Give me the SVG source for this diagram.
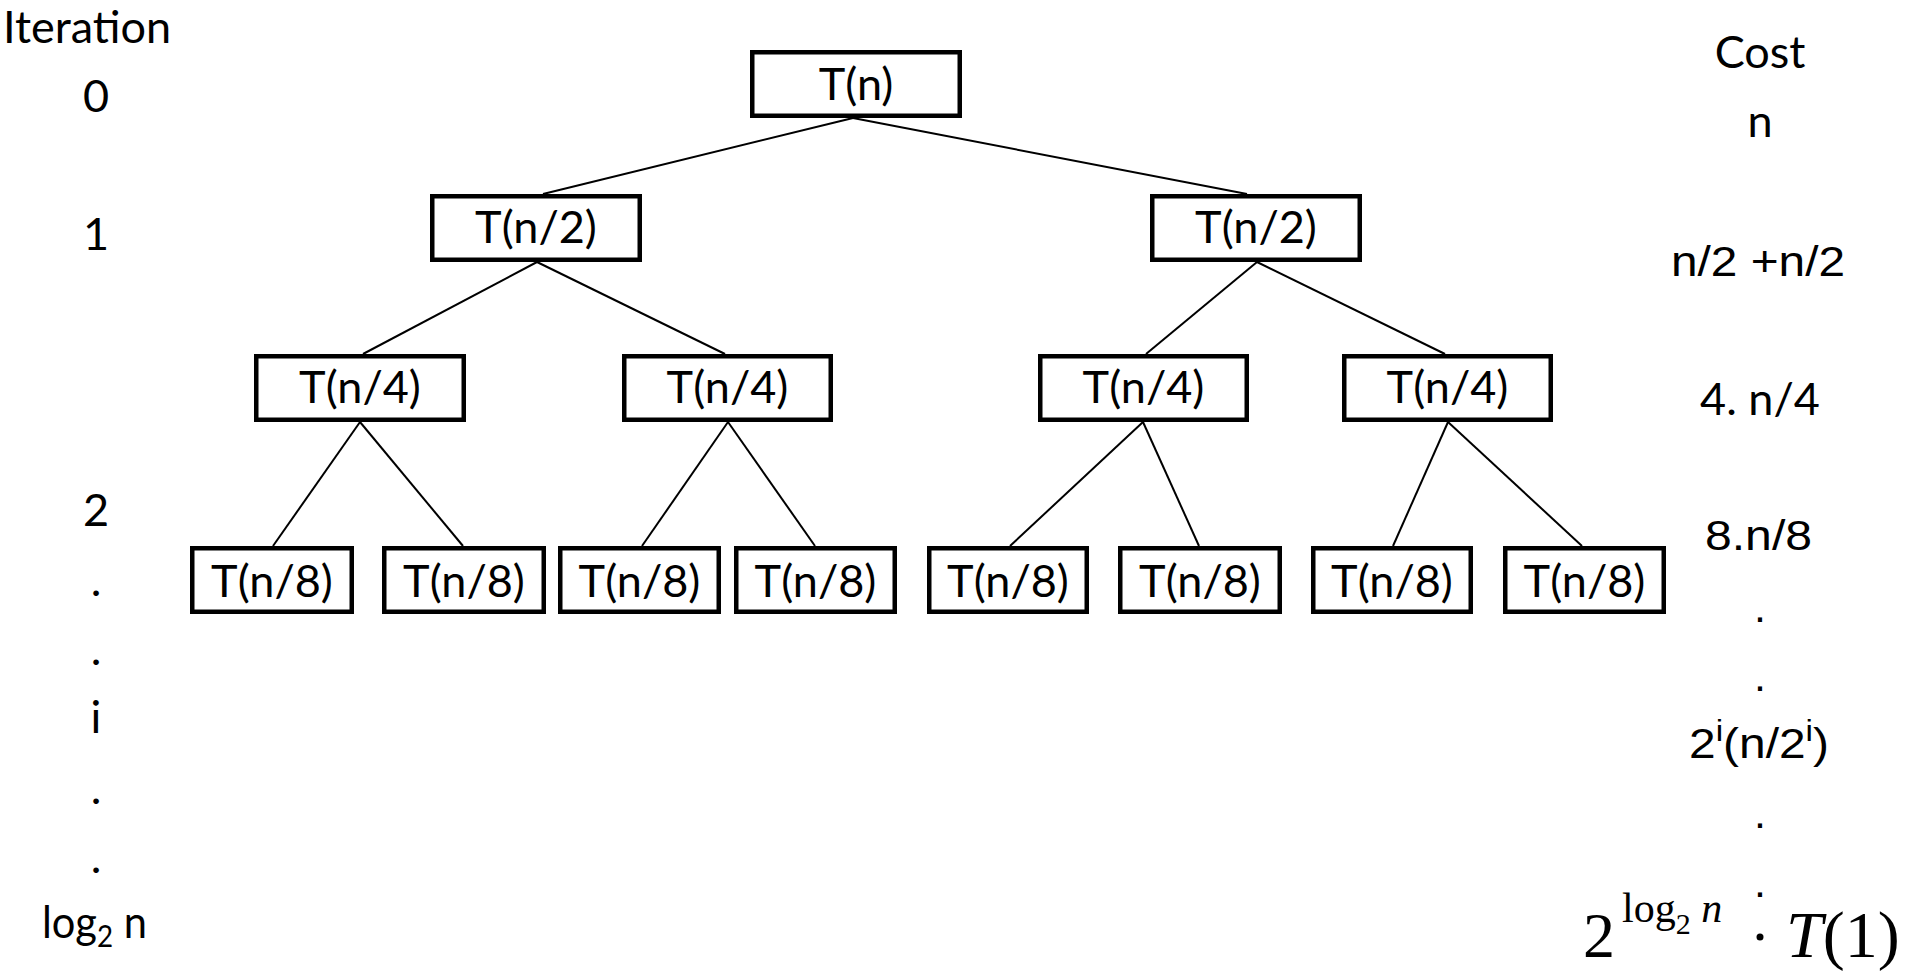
<svg xmlns="http://www.w3.org/2000/svg" width="1909" height="974" viewBox="0 0 1909 974">
<style>
.box{fill:#fff;stroke:#000;stroke-width:4.5;stroke-linejoin:miter}
.lbl{font-family:Lato,"Open Sans",sans-serif;font-size:45px;fill:#000;text-anchor:middle}
.cal{font-family:Lato,"Open Sans",sans-serif;font-size:45px;fill:#000}
.ar{font-family:"Liberation Sans",Arial,sans-serif;font-size:43px;fill:#000}
.mid{text-anchor:middle}
.edge{stroke:#000;stroke-width:2;fill:none}
.cm{font-family:"Liberation Serif","DejaVu Serif",serif;fill:#000}
</style>
<rect width="1909" height="974" fill="#fff"/>
<g id="connectors">
<line class="edge" x1="853" y1="118" x2="543" y2="194"/>
<line class="edge" x1="853" y1="118" x2="1247" y2="194"/>
<line class="edge" x1="537" y1="262" x2="363" y2="354"/>
<line class="edge" x1="537" y1="262" x2="725" y2="354"/>
<line class="edge" x1="1257" y1="262" x2="1146" y2="354"/>
<line class="edge" x1="1257" y1="262" x2="1445" y2="354"/>
<line class="edge" x1="360" y1="422" x2="273" y2="546"/>
<line class="edge" x1="360" y1="422" x2="463" y2="546"/>
<line class="edge" x1="728" y1="422" x2="642" y2="546"/>
<line class="edge" x1="728" y1="422" x2="815" y2="546"/>
<line class="edge" x1="1143" y1="422" x2="1010" y2="546"/>
<line class="edge" x1="1143" y1="422" x2="1199" y2="546"/>
<line class="edge" x1="1448" y1="422" x2="1393" y2="546"/>
<line class="edge" x1="1448" y1="422" x2="1582" y2="546"/>
</g>
<g id="n0"><rect class="box" x="752.25" y="52.25" width="207.5" height="63.5"/><text class="lbl" x="856" y="100">T(n)</text></g>
<g id="n1a"><rect class="box" x="432.25" y="196.25" width="207.5" height="63.5"/><text class="lbl" x="536" y="243">T(n/2)</text></g>
<g id="n1b"><rect class="box" x="1152.25" y="196.25" width="207.5" height="63.5"/><text class="lbl" x="1256" y="243">T(n/2)</text></g>
<g id="n2a"><rect class="box" x="256.25" y="356.25" width="207.5" height="63.5"/><text class="lbl" x="360" y="403">T(n/4)</text></g>
<g id="n2b"><rect class="box" x="624.25" y="356.25" width="206.5" height="63.5"/><text class="lbl" x="727.5" y="403">T(n/4)</text></g>
<g id="n2c"><rect class="box" x="1040.25" y="356.25" width="206.5" height="63.5"/><text class="lbl" x="1143.5" y="403">T(n/4)</text></g>
<g id="n2d"><rect class="box" x="1344.25" y="356.25" width="206.5" height="63.5"/><text class="lbl" x="1447.5" y="403">T(n/4)</text></g>
<g id="n3a"><rect class="box" x="192.25" y="548.25" width="159.5" height="63.5"/><text class="lbl" x="272" y="597">T(n/8)</text></g>
<g id="n3b"><rect class="box" x="384.25" y="548.25" width="159.5" height="63.5"/><text class="lbl" x="464" y="597">T(n/8)</text></g>
<g id="n3c"><rect class="box" x="560.25" y="548.25" width="158.5" height="63.5"/><text class="lbl" x="639.5" y="597">T(n/8)</text></g>
<g id="n3d"><rect class="box" x="736.25" y="548.25" width="158.5" height="63.5"/><text class="lbl" x="815.5" y="597">T(n/8)</text></g>
<g id="n3e"><rect class="box" x="929.25" y="548.25" width="157.5" height="63.5"/><text class="lbl" x="1008" y="597">T(n/8)</text></g>
<g id="n3f"><rect class="box" x="1120.25" y="548.25" width="159.5" height="63.5"/><text class="lbl" x="1200" y="597">T(n/8)</text></g>
<g id="n3g"><rect class="box" x="1313.25" y="548.25" width="157.5" height="63.5"/><text class="lbl" x="1392" y="597">T(n/8)</text></g>
<g id="n3h"><rect class="box" x="1505.25" y="548.25" width="158.5" height="63.5"/><text class="lbl" x="1584.5" y="597">T(n/8)</text></g>
<g id="iteration">
<text class="cal" x="3" y="43">Iteration</text>
<text class="cal mid" x="96" y="112">0</text>
<text class="cal mid" x="96" y="250">1</text>
<text class="cal mid" x="96" y="526">2</text>
<text class="cal mid" x="96" y="596">.</text>
<text class="cal mid" x="96" y="665">.</text>
<text class="cal mid" x="96" y="733">i</text>
<text class="cal mid" x="96" y="804">.</text>
<text class="cal mid" x="96" y="873">.</text>
<text class="cal" x="42" y="938" textLength="105" lengthAdjust="spacingAndGlyphs">log<tspan font-size="30" dy="9">2</tspan><tspan dy="-9"> n</tspan></text>
</g>
<g id="cost">
<text class="cal mid" x="1760" y="68">Cost</text>
<text class="cal mid" x="1760" y="137">n</text>
<text class="ar" x="1671" y="276" textLength="174" lengthAdjust="spacingAndGlyphs">n/2 +n/2</text>
<text class="cal mid" x="1760" y="415">4. n/4</text>
<text class="ar" x="1705" y="550" textLength="107" lengthAdjust="spacingAndGlyphs">8.n/8</text>
<text class="ar mid" x="1760" y="622">.</text>
<text class="ar mid" x="1760" y="691">.</text>
<text class="ar" x="1689" y="758" textLength="140" lengthAdjust="spacingAndGlyphs">2<tspan font-size="30" dy="-17">i</tspan><tspan dy="17">(n/2</tspan><tspan font-size="30" dy="-17">i</tspan><tspan dy="17">)</tspan></text>
<text class="ar mid" x="1760" y="828">.</text>
<text class="ar mid" x="1760" y="897">.</text>
<text class="cm" x="1583" y="957" font-size="64">2</text>
<text class="cm" x="1622" y="922" font-size="42">log<tspan font-size="30" dy="12">2</tspan><tspan dy="-12" font-style="italic"> n</tspan></text>
<circle cx="1760" cy="937" r="3.5" fill="#000"/>
<text class="cm" x="1786" y="957" font-size="66"><tspan font-style="italic">T</tspan>(1)</text>
</g>
</svg>
